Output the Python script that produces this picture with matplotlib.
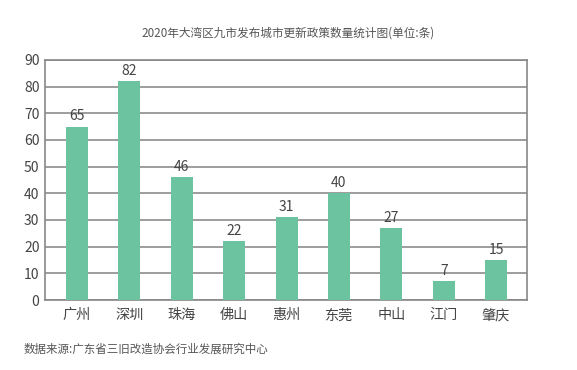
import matplotlib
matplotlib.use("Agg")
import matplotlib.pyplot as plt

plt.rcParams['font.family'] = ['Noto Sans CJK SC', 'DejaVu Sans']

cities = ["广州", "深圳", "珠海", "佛山", "惠州", "东莞", "中山", "江门", "肇庆"]
values = [65, 82, 46, 22, 31, 40, 27, 7, 15]
yticks = [0, 10, 20, 30, 40, 50, 60, 70, 80, 90]

fig = plt.figure(figsize=(5.77, 3.70), dpi=100)
ax = fig.add_axes([45/577, 70/370, 482/577, 240/370])

x = list(range(len(cities)))
bars = ax.bar(x, values, width=0.42, color="#6CC3A0", zorder=3)
for xi, v in zip(x, values):
    ax.text(xi, v + 1.3, str(v), ha="center", va="bottom", fontsize=10, color="#444444", zorder=4)

ax.set_xlim(-0.61, len(cities) - 0.41)
ax.set_ylim(0, 90)
ax.set_yticks(yticks)
ax.set_yticklabels([str(t) for t in yticks], fontsize=10, color="#444444")
ax.set_xticks(x)
ax.set_xticklabels(cities, fontsize=10.2, color="#444444")
ax.tick_params(axis="y", length=0, pad=4)
ax.tick_params(axis="x", length=0, pad=6)
ax.yaxis.grid(True, color="#8c8c8c", linewidth=1.2, zorder=0)
for s in ax.spines.values():
    s.set_color("#888888")
    s.set_linewidth(1.2)

fig.text(0.5, 1 - 33/370, "2020年大湾区九市发布城市更新政策数量统计图(单位:条)",
         ha="center", va="center", fontsize=8.4, color="#555555")
fig.text(24/577, 1 - 349/370, "数据来源:广东省三旧改造协会行业发展研究中心",
         ha="left", va="center", fontsize=8.3, color="#555555")

fig.savefig("out.png", dpi=100)
